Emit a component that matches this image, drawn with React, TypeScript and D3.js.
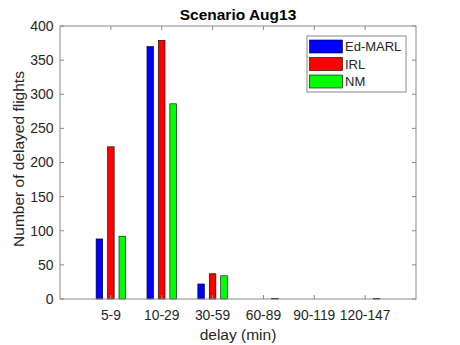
import React from 'react';
import * as d3 from 'd3';

const categories = ['5-9', '10-29', '30-59', '60-89', '90-119', '120-147'];
const seriesNames = ['Ed-MARL', 'IRL', 'NM'];
const edMarl = [88, 370, 22, 0, 0, 0];
const irl = [223, 379, 37, 0, 0, 0];
const nm = [92, 286, 34, 1, 0, 1];
const yTicks = [0, 50, 100, 150, 200, 250, 300, 350, 400];
const colors = ['#0000ff', '#ff0000', '#00ff00'];

const W = 460;
const H = 345;
const left = 60;
const right = 416;
const top = 26;
const bottom = 299;
const font = 'Liberation Sans, Arial, sans-serif';
const textColor = '#262626';
const axisColor = '#8a8a8a';

const App = () => {
  const series = [edMarl, irl, nm];
  const x = d3.scaleLinear().domain([0, categories.length + 1]).range([left, right]);
  const y = d3.scaleLinear().domain([0, 400]).range([bottom, top]);
  const unit = x(1) - x(0);
  const offset = 0.225 * unit;
  const barW = 0.13 * unit;

  return (
    <svg width={W} height={H} style={{ position: 'absolute', left: 0, top: 0, background: '#fff' }}>
      <rect x={0} y={0} width={W} height={H} fill="#fff" />
      {series.map((vals, si) =>
        vals.map((v, ci) => {
          const cx = x(ci + 1) + (si - 1) * offset;
          if (v <= 0) return null;
          return (
            <rect
              key={`${si}-${ci}`}
              x={cx - barW / 2}
              y={y(v)}
              width={barW}
              height={y(0) - y(v)}
              fill={colors[si]}
              stroke="#000"
              strokeWidth={0.6}
            />
          );
        })
      )}
      {/* box */}
      <rect x={left} y={top} width={right - left} height={bottom - top} fill="none" stroke={axisColor} strokeWidth={1} />
      {yTicks.map((t) => (
        <g key={t}>
          <line x1={left} x2={left + 4} y1={y(t)} y2={y(t)} stroke={axisColor} />
          <line x1={right} x2={right - 4} y1={y(t)} y2={y(t)} stroke={axisColor} />
          <text x={left - 6.5} y={y(t)} dy="0.35em" textAnchor="end" fontFamily={font} fontSize={14} fill={textColor}>
            {t}
          </text>
        </g>
      ))}
      {categories.map((c, i) => (
        <g key={c}>
          <line x1={x(i + 1)} x2={x(i + 1)} y1={bottom} y2={bottom - 4} stroke={axisColor} />
          <line x1={x(i + 1)} x2={x(i + 1)} y1={top} y2={top + 4} stroke={axisColor} />
          <text x={x(i + 1)} y={bottom + 21} textAnchor="middle" fontFamily={font} fontSize={13.8} fill={textColor}>
            {c}
          </text>
        </g>
      ))}
      <text x={(left + right) / 2} y={19.5} textAnchor="middle" fontFamily={font} fontSize={15.5} fontWeight="bold" fill="#000">
        Scenario Aug13
      </text>
      <text x={(left + right) / 2} y={339.5} textAnchor="middle" fontFamily={font} fontSize={15.5} fill={textColor}>
        delay (min)
      </text>
      <text
        transform={`translate(24, 159) rotate(-90)`}
        textAnchor="middle"
        fontFamily={font}
        fontSize={15.5}
        fill={textColor}
      >
        Number of delayed flights
      </text>
      {/* legend */}
      <g>
        <rect x={307} y={36} width={99} height={56} fill="#fff" stroke={axisColor} />
        {seriesNames.map((n, i) => (
          <g key={n}>
            <rect x={309.5} y={40 + i * 17.5} width={33} height={13} fill={colors[i]} stroke="#000" strokeWidth={0.6} />
            <text x={345} y={46.5 + i * 17.5} dy="0.35em" fontFamily={font} fontSize={13} fill={textColor}>
              {n}
            </text>
          </g>
        ))}
      </g>
    </svg>
  );
};

export default App;
